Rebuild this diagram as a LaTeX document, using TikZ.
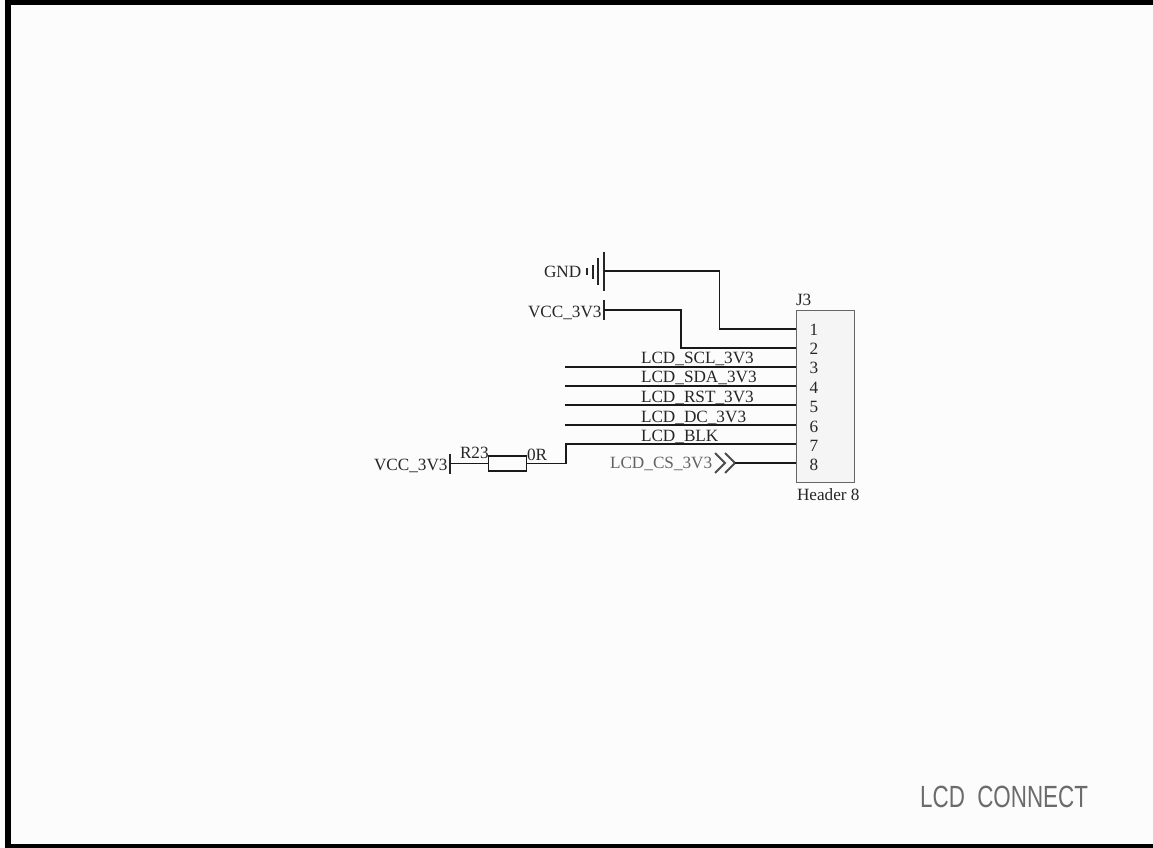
\documentclass[tikz,border=0pt]{standalone}
\usepackage{fontspec}
\setmainfont{Liberation Serif}
\newfontfamily\titlefont{Liberation Sans}
\begin{document}
\begin{tikzpicture}[x=0.75pt,y=-0.75pt,
  lbl/.style={inner sep=0pt,outer sep=0pt,font=\fontsize{12.9pt}{14pt}\selectfont,text=black!85},
  lblw/.style={lbl,anchor=base west},
  grey/.style={lblw,text=black!62},
  wire/.style={line width=1.35pt,black!90,line join=miter},
  bar/.style={line width=1.35pt,black!85},
  frameedge/.style={fill=black,draw=none}]
\useasboundingbox (0,0) rectangle (1153,848);
\fill[black!1] (0,0) rectangle (1153,848);
% frame
\fill[frameedge] (5,0) rectangle (1153,5);
\fill[frameedge] (5,0) rectangle (11,848);
\fill[frameedge] (5,844) rectangle (1153,848);
% connector
\node (J3) [draw=black!60,fill=black!4,line width=0.9pt,minimum width=43.5pt,minimum height=129pt,inner sep=0pt,anchor=north west] at (796,310) {};
\node[lblw] (J3name) at (796,306) {J3};
\node[lblw] (J3val) at (797,500) {Header 8};
\foreach \n/\y in {1/336,2/355,3/374,4/394,5/413,6/432,7/451,8/470}
  \node[lbl,anchor=base] (pin\n) at (814,\y) {\n};
% pin ends
\coordinate (p1) at (796,329);
\coordinate (p2) at (796,348);
\coordinate (p3) at (796,367);
\coordinate (p4) at (796,386);
\coordinate (p5) at (796,405);
\coordinate (p6) at (796,425);
\coordinate (p7) at (796,444);
\coordinate (p8) at (796,463);
% free ends
\coordinate (f3) at (565,367);
\coordinate (f4) at (565,386);
\coordinate (f5) at (565,405);
\coordinate (f6) at (565,425);
% GND
\coordinate (gnd) at (604,271);
\node[lblw] (gndl) at (544,278) {GND};
\draw[bar] (587,268) -- (587,275);
\draw[bar] (593,265) -- (593,279);
\draw[bar] (598,258) -- (598,285);
\draw[bar] (604,252) -- (604,291);
\draw[wire] (gnd) -- (719.5,271) -- (719.5,329) -- (p1);
% VCC top
\coordinate (vcc) at (604,310);
\node[lblw] (vccl) at (528,318) {VCC\_3V3};
\draw[bar] (604,300) -- (604,320);
\draw[wire] (vcc) -- (681,310) -- (681,348) -- (p2);
% nets
\draw[wire] (f3) -- (p3);
\draw[wire] (f4) -- (p4);
\draw[wire] (f5) -- (p5);
\draw[wire] (f6) -- (p6);
\node[lblw] (n3) at (641,364) {LCD\_SCL\_3V3};
\node[lblw] (n4) at (641,383) {LCD\_SDA\_3V3};
\node[lblw] (n5) at (641,403) {LCD\_RST\_3V3};
\node[lblw] (n6) at (641,422) {LCD\_DC\_3V3};
\node[lblw] (n7) at (641,441) {LCD\_BLK};
% resistor
\node (R) [draw=black!90,line width=1.35pt,fill=black!1,minimum width=28.5pt,minimum height=11pt,inner sep=0pt] at (507.5,463.5) {};
\node[lblw] (Rname) at (460,459) {R23};
\node[lblw] (Rval) at (527,460) {0R};
\coordinate (vcc2) at (450,463.5);
\node[lblw] (vcc2l) at (374,470) {VCC\_3V3};
\draw[bar] (450,453.5) -- (450,474);
\draw[wire] (vcc2) -- (R.west);
\draw[wire] (R.east) -- (565.7,463.5) -- (565.7,444) -- (p7);
% CS port
\coordinate (cs) at (735,463);
\node[grey] (csl) at (610,469) {LCD\_CS\_3V3};
\draw[bar,black!70] (715,453) -- (725,463) -- (715,473);
\draw[bar,black!70] (725,453) -- (735,463) -- (725,473);
\draw[wire] (cs) -- (p8);
% title
\node[inner sep=0pt,anchor=base west,text=black!58,font=\titlefont\fontsize{23pt}{26pt}\selectfont,xscale=0.73,transform shape] (title) at (920,807) {LCD\hspace{0.55em}CONNECT};
\end{tikzpicture}
\end{document}
